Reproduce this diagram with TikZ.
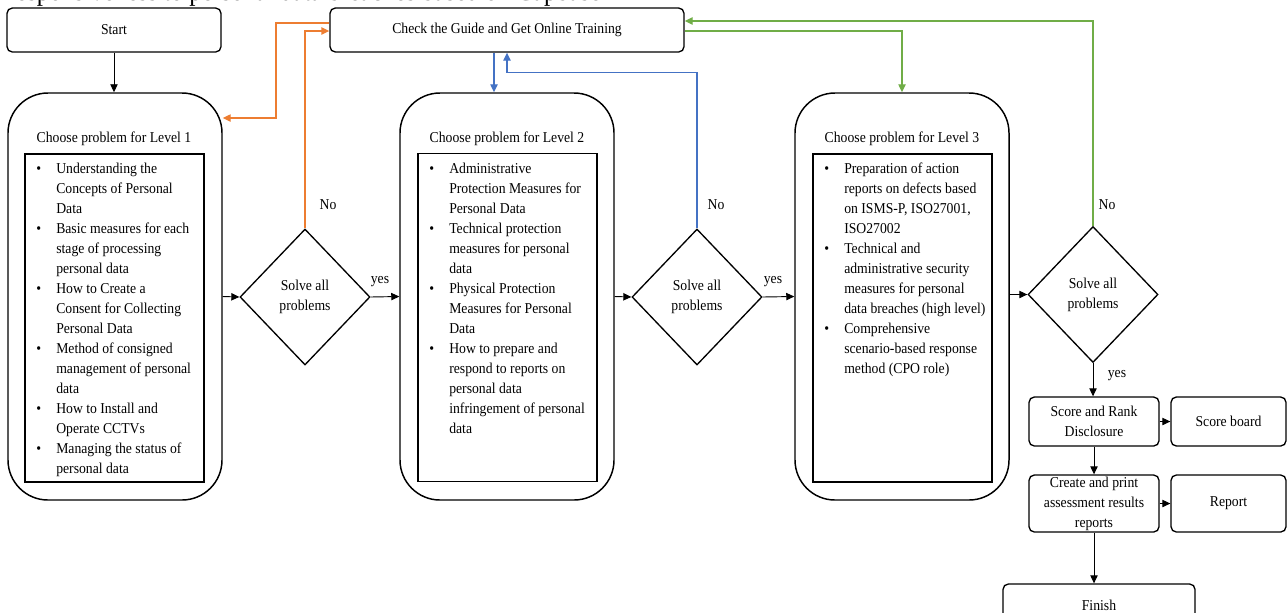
\documentclass[tikz,border=0pt]{standalone}
\usepackage{fontspec}
\setmainfont{Liberation Serif}[FakeStretch=0.91]
\usepackage{xcolor}
\usepackage{tikz}
\usetikzlibrary{positioning}
\usetikzlibrary{shapes.geometric}
\usetikzlibrary{arrows.meta}

\definecolor{lineorange}{RGB}{237,125,49}
\definecolor{lineblue}{RGB}{68,114,196}
\definecolor{linegreen}{RGB}{112,173,71}
\newcommand{\fz}{\fontsize{11.3}{15}\selectfont}
\newcommand{\lb}{\makebox[15pt][l]{\textbullet}}
\newcommand{\li}{\hspace*{15pt}}

\begin{document}
\begin{tikzpicture}[x=0.75pt,y=-0.75pt,
    box/.style={draw,line width=1pt,rounded corners=4pt,font=\fz,align=center,inner sep=0pt},
    level/.style={draw,line width=1.1pt,rounded corners=30pt,minimum width=160.5pt,minimum height=305.25pt},
    inbox/.style={draw,line width=1.1pt,minimum width=134.25pt,minimum height=246pt},
    choice/.style={diamond,draw,line width=1pt,minimum width=97.5pt,minimum height=102pt,inner sep=0pt,font=\fz,align=center},
    lst/.style={anchor=north west,inner sep=0pt,font=\fz,align=left},
    lbl/.style={font=\fz,inner sep=0pt},
    arr/.style={-{Triangle[length=6pt,width=5.5pt]},line width=0.7pt},
    orng/.style={arr,draw=lineorange,line width=1pt},
    blu/.style={arr,draw=lineblue,line width=1pt},
    grn/.style={arr,draw=linegreen,line width=1pt}]
    \useasboundingbox (0,0) rectangle (1287,612);
    \clip (0,0) rectangle (1287,612);
    % caption above, cut by the page edge
    \node[anchor=base west,inner sep=0pt,font=\fontsize{20.6}{24}\selectfont] (cap) at (-1,0){Responsiveness to personal data breaches based on Capbase};
    \node[box,minimum width=160.5pt,minimum height=33pt] (start) at (114,30){Start};
    \node[box,minimum width=265.5pt,minimum height=33pt] (check) at (507,30){Check the Guide and Get Online Training};
    % level boxes
    \node[level] (lev1) at (115,296.5){};
    \node[level] (lev2) at (507,296.5){};
    \node[level] (lev3) at (902,296.5){};
    \node[lbl] (t1) at (114,139){Choose problem for Level 1};
    \node[lbl] (t2) at (507,139){Choose problem for Level 2};
    \node[lbl] (t3) at (902,139){Choose problem for Level 3};
    \node[inbox] (in1) at (114.5,318){};
    \node[inbox] (in2) at (507.5,317.5){};
    \node[inbox] (in3) at (902.5,318){};
    \node[lst] (p1) at (36,163){\lb Understanding the\\ \li Concepts of Personal\\ \li Data\\
        \lb Basic measures for each\\ \li stage of processing\\ \li personal data\\
        \lb How to Create a\\ \li Consent for Collecting\\ \li Personal Data\\
        \lb Method of consigned\\ \li management of personal\\ \li data\\
        \lb How to Install and\\ \li Operate CCTVs\\
        \lb Managing the status of\\ \li personal data};
    \node[lst] (p2) at (429,163){\lb Administrative\\ \li Protection Measures for\\ \li Personal Data\\
        \lb Technical protection\\ \li measures for personal\\ \li data\\
        \lb Physical Protection\\ \li Measures for Personal\\ \li Data\\
        \lb How to prepare and\\ \li respond to reports on\\ \li personal data\\ \li infringement of personal\\ \li data};
    \node[lst] (p3) at (824,163){\lb Preparation of action\\ \li reports on defects based\\ \li on ISMS-P, ISO27001,\\ \li ISO27002\\
        \lb Technical and\\ \li administrative security\\ \li measures for personal\\ \li data breaches (high level)\\
        \lb Comprehensive\\ \li scenario-based response\\ \li method (CPO role)};
    % decisions
    \node[choice] (dia1) at (305,297){Solve all\\problems};
    \node[choice] (dia2) at (697,297){Solve all\\problems};
    \node[choice] (dia3) at (1093,294.5){Solve all\\problems};
    \node[lbl] (no1) at (328,205){No};
    \node[lbl] (no2) at (716,205){No};
    \node[lbl] (no3) at (1107,205){No};
    \node[lbl] (yes1) at (380,282){yes};
    \node[lbl] (yes2) at (773,282){yes};
    \node[lbl] (yes3) at (1117,376){yes};
    % results
    \node[box,minimum width=97.5pt,minimum height=36.75pt] (score) at (1094,421.5){Score and Rank\\Disclosure};
    \node[box,minimum width=86.25pt,minimum height=36.75pt] (board) at (1228.5,421.5){Score board};
    \node[box,minimum width=97.5pt,minimum height=42.75pt] (create) at (1094,503.5){Create and print\\assessment results\\reports};
    \node[box,minimum width=86.25pt,minimum height=42.75pt] (report) at (1228.5,503.5){Report};
    \node[box,minimum width=144pt,minimum height=31.5pt] (finish) at (1099,605){Finish};

    \draw[arr] (start.south) -- (start.south |- lev1.north);
    \draw[arr] (lev1.east) -- (dia1.west);
    \draw[arr] (dia1.east) -- (lev2.west);
    \draw[arr] (lev2.east) -- (dia2.west);
    \draw[arr] (dia2.east) -- (lev3.west);
    \draw[arr] (lev3.east |- dia3.west) -- (dia3.west);
    \draw[arr] (dia3.south) -- (dia3.south |- score.north);
    \draw[arr] (score.east) -- (board.west);
    \draw[arr] (score.south) -- (create.north);
    \draw[arr] (create.east) -- (report.west);
    \draw[arr] (create.south) -- (create.south |- finish.north);
    % loops back to the guide
    \coordinate (o1) at (276,118);
    \draw[orng] ([yshift=5.25pt]check.west) -| (o1) -- (o1 -| lev1.east);
    \draw[orng] (dia1.north) |- ([yshift=-0.75pt]check.west);
    \draw[blu] ([xshift=-9.75pt]check.south) -- ([xshift=-9.75pt]lev2.north);
    \draw[blu] (dia2.north) |- ([yshift=-15pt]check.south) -- (check.south);
    \draw[grn] (dia3.north) |- ([yshift=6.75pt]check.east);
    \draw[grn] ([yshift=-0.75pt]check.east) -| (lev3.north);
\end{tikzpicture}
\end{document}
